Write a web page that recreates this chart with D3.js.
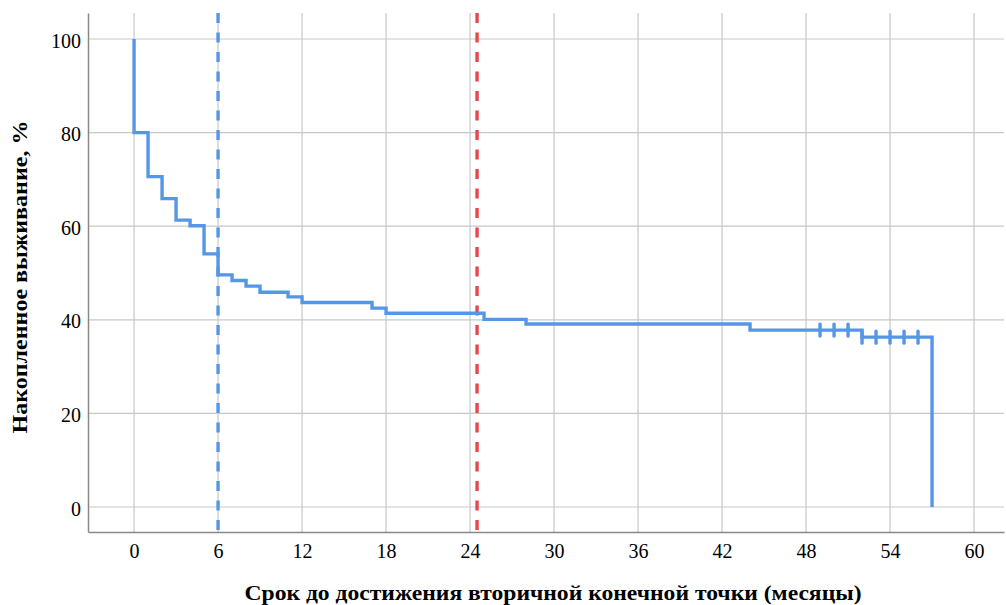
<!DOCTYPE html>
<html>
<head>
<meta charset="utf-8">
<script src="https://cdn.jsdelivr.net/npm/d3@7"></script>
<style>
  body { margin: 0; background: #fff; }
</style>
</head>
<body>
<div id="chart"></div>
<script>
// Kaplan-Meier steps: month where survival drops and the new level (%)
var stepMonths = [0, 1, 2, 3, 4, 5, 6, 7, 8, 9, 11, 12, 17, 18, 25, 28, 44, 52, 57];
var stepSurvival = [100, 80, 70.6, 65.9, 61.3, 60.1, 54.1, 49.6, 48.4, 47.2, 45.9, 44.9, 43.7, 42.5, 41.4, 40.1, 39.1, 37.8, 36.3, 0];
// censored observations (months)
var censorMonths = [49, 50, 51, 52, 53, 54, 55, 56];
var xTicks = [0, 6, 12, 18, 24, 30, 36, 42, 48, 54, 60];
var yTicks = [0, 20, 40, 60, 80, 100];
var refLines = [{month: 6, color: "#5596e6"}, {month: 24.5, color: "#e8474b"}];

var FONT = "'Liberation Serif', 'Times New Roman', serif";
var W = 1006, H = 605;
var margin = {top: 13, right: 2, bottom: 73, left: 88};
var w = W - margin.left - margin.right,
    h = H - margin.top - margin.bottom;

var svg = d3.select("#chart").append("svg")
  .attr("width", W).attr("height", H)
  .append("g")
  .attr("transform", `translate(${margin.left},${margin.top})`);

var x = d3.scaleLinear().domain([-3.29, 62.14]).range([0, w]);
var y = d3.scaleLinear().domain([-5.34, 105.56]).range([h, 0]);

// grid
svg.append("g").selectAll("line").data(xTicks).enter().append("line")
  .attr("x1", d => x(d)).attr("x2", d => x(d))
  .attr("y1", 0).attr("y2", h)
  .attr("stroke", "#c8c8c8").attr("stroke-width", 1.2);
svg.append("g").selectAll("line").data(yTicks).enter().append("line")
  .attr("x1", 0).attr("x2", w)
  .attr("y1", d => y(d)).attr("y2", d => y(d))
  .attr("stroke", "#c8c8c8").attr("stroke-width", 1.2);

// axes
var xAxis = svg.append("g")
  .attr("transform", `translate(0,${h})`)
  .call(d3.axisBottom(x).tickValues(xTicks).tickSize(0).tickPadding(12));
var yAxis = svg.append("g")
  .call(d3.axisLeft(y).tickValues(yTicks).tickSize(0).tickPadding(7));
[xAxis, yAxis].forEach(function(a) {
  a.select(".domain").attr("stroke", "#888").attr("stroke-width", 1.5);
  a.selectAll("text").style("font-size", "20px").attr("fill", "#000")
    .style("font-family", FONT);
});
yAxis.selectAll("text").attr("dy", "0.4em");

// reference lines
svg.append("g").selectAll("line").data(refLines).enter().append("line")
  .attr("x1", d => x(d.month)).attr("x2", d => x(d.month))
  .attr("y1", 0).attr("y2", h)
  .attr("stroke", d => d.color).attr("stroke-width", 3.4)
  .attr("stroke-dasharray", "10,9.5");

// survival curve
var pts = [];
stepMonths.forEach(function(m, i) {
  pts.push([m, stepSurvival[i]]);
  pts.push([m, stepSurvival[i + 1]]);
});
svg.append("path")
  .datum(pts)
  .attr("fill", "none")
  .attr("stroke", "#5596e6")
  .attr("stroke-width", 3.4)
  .attr("d", d3.line().x(d => x(d[0])).y(d => y(d[1])));

// censor marks
function levelAt(m) {
  var v = 100;
  stepMonths.forEach(function(s, i) { if (s <= m) v = stepSurvival[i + 1]; });
  return v;
}
svg.append("g").selectAll("line").data(censorMonths).enter().append("line")
  .attr("x1", d => x(d)).attr("x2", d => x(d))
  .attr("y1", d => y(levelAt(d)) - 6).attr("y2", d => y(levelAt(d)) + 6)
  .attr("stroke", "#5596e6").attr("stroke-width", 3.4)
  .attr("stroke-linecap", "round");

// axis titles
svg.append("text")
  .attr("x", 553 - margin.left).attr("y", 600 - margin.top)
  .attr("text-anchor", "middle")
  .attr("textLength", 617).attr("lengthAdjust", "spacingAndGlyphs")
  .style("font-family", FONT)
  .style("font-size", "21px").style("font-weight", "bold")
  .text("Срок до достижения вторичной конечной точки (месяцы)");
svg.append("text")
  .attr("transform", `translate(${27 - margin.left},${277 - margin.top}) rotate(-90)`)
  .attr("text-anchor", "middle")
  .attr("textLength", 313).attr("lengthAdjust", "spacingAndGlyphs")
  .style("font-family", FONT)
  .style("font-size", "21px").style("font-weight", "bold")
  .text("Накопленное выживание, %");
</script>
</body>
</html>
